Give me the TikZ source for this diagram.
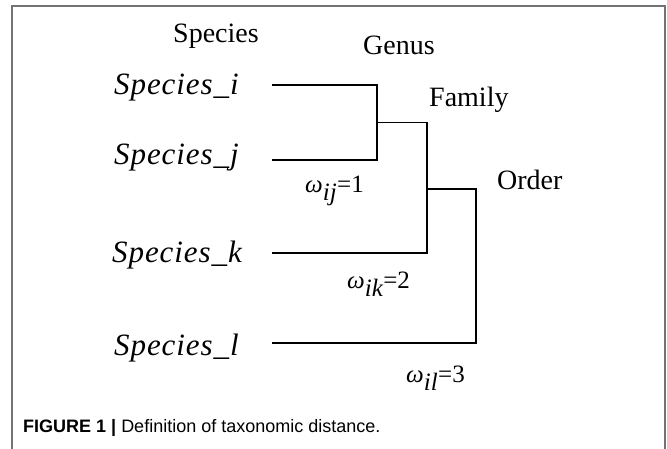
\documentclass[tikz,border=0pt]{standalone}
\usepackage{fontspec}
\setmainfont{Liberation Serif}
\setsansfont{Liberation Sans}
\newfontfamily\leaffont{Liberation Serif}[LetterSpace=3]
\usepackage{tikz}
\usetikzlibrary{positioning,calc}

\begin{document}
\begin{tikzpicture}[
  x=1pt, y=-1pt,
  leaf/.style={anchor=base west, inner sep=0pt, font=\leaffont\itshape\fontsize{31}{33}\selectfont},
  rank/.style={anchor=base west, inner sep=0pt, font=\fontsize{28}{30}\selectfont},
  weight/.style={anchor=base west, inner sep=0pt, font=\fontsize{25}{27}\selectfont},
  link/.style={line width=1.4pt},
  frame/.style={draw=black!55, line width=1.2pt}
]
\useasboundingbox (0,0) rectangle (667,449);
\draw[frame] (12,449) -- (12,6) -- (665,6) -- (665,449);

\node[rank, anchor=base] (hdr) at (216,43) {Species};
\node[rank] (genus)  at (363,55)  {Genus};
\node[rank] (family) at (429,107) {Family};
\node[rank] (order)  at (497,190) {Order};

\node[leaf] (si) at (114,95)  {Species\_i};
\node[leaf] (sj) at (114,165) {Species\_j};
\node[leaf] (sk) at (112,263) {Species\_k};
\node[leaf] (sl) at (114,355) {Species\_l};

\coordinate (ti) at (272,85);
\coordinate (tj) at (272,160);
\coordinate (tk) at (272,253);
\coordinate (tl) at (272,343);
\coordinate (g) at (377,122.5);
\coordinate (f) at (427,189);
\coordinate (o) at (476,266);

\draw[link] (ti) -| (g) |- (tj);
\draw[link] (g) -| (f) |- (tk);
\draw[link] (f) -| (o) |- (tl);

\node[weight] (wij) at (305,193) {\textit{ω}$_{\textit{ij}}$=1};
\node[weight] (wik) at (347,288) {\textit{ω}$_{\textit{ik}}$=2};
\node[weight] (wil) at (406,382) {\textit{ω}$_{\textit{il}}$=3};

\node[anchor=base west, inner sep=0pt, font=\sffamily\fontsize{18}{20}\selectfont] (cap) at (23,432)
  {\textbf{FIGURE 1 |} Definition of taxonomic distance.};
\end{tikzpicture}
\end{document}
